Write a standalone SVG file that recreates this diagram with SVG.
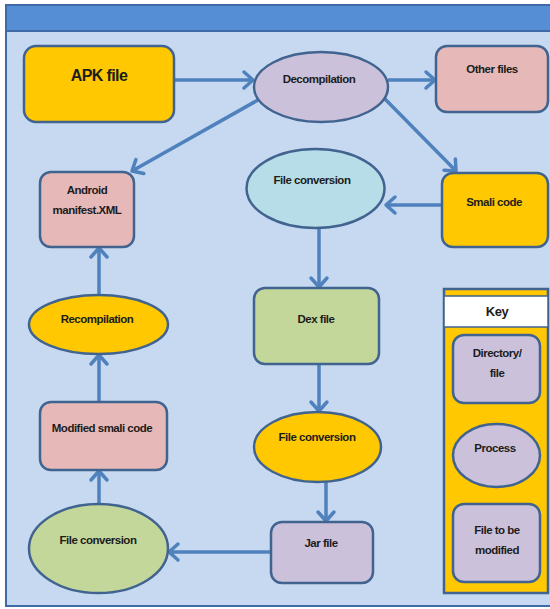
<svg xmlns="http://www.w3.org/2000/svg" width="550" height="609" viewBox="0 0 550 609">
<style>
.node{stroke:#41638f;stroke-width:2.5}
.yel{fill:#ffc800}.pink{fill:#e6b9b8}.lav{fill:#ccc1da}.cyan{fill:#b7dee8}.grn{fill:#c4d79b}
text{font-family:"Liberation Sans",Arial,sans-serif;font-weight:bold;fill:#1c1c1c;text-anchor:middle;dominant-baseline:central;font-size:11.5px;letter-spacing:-0.5px}
.big{font-size:16px;letter-spacing:-0.6px}
.conn line{stroke:#4f81bd;stroke-width:3.5;marker-end:url(#ah)}
</style>
<defs>
<marker id="ah" markerUnits="userSpaceOnUse" markerWidth="24" markerHeight="24" refX="0" refY="0" viewBox="-14 -12 24 24" orient="auto" overflow="visible">
<polyline points="-9,-8 0,0 -9,8" fill="none" stroke="#4f81bd" stroke-width="3.5" stroke-linejoin="round" stroke-linecap="round"/>
</marker>
</defs>
<g id="frame">
<rect x="6" y="5" width="548" height="601" fill="#c6d9f1" stroke="#3f6aa6" stroke-width="2"/>
<rect x="6" y="5" width="548" height="26" fill="#558ed5" stroke="#3f6aa6" stroke-width="2"/>
</g>
<g class="conn" id="connectors">
<line x1="174" y1="80" x2="253" y2="80"/>
<line x1="388" y1="80" x2="435" y2="80"/>
<line x1="384" y1="98" x2="456" y2="171"/>
<line x1="258" y1="100" x2="132" y2="171"/>
<line x1="442" y1="205" x2="386" y2="205"/>
<line x1="319" y1="228" x2="319" y2="287"/>
<line x1="319" y1="364" x2="319" y2="411"/>
<line x1="326" y1="482" x2="326" y2="521"/>
<line x1="271" y1="552" x2="169" y2="552"/>
<line x1="99" y1="504" x2="99" y2="471"/>
<line x1="99" y1="402" x2="99" y2="355"/>
<line x1="99" y1="295" x2="99" y2="248"/>
</g>
<g id="apk"><rect class="node yel" x="24" y="46" width="150" height="76" rx="12"/><text class="big" x="99" y="75">APK file</text></g>
<g id="decompilation"><ellipse class="node lav" cx="321" cy="87" rx="67" ry="35"/><text x="319" y="79">Decompilation</text></g>
<g id="otherfiles"><rect class="node pink" x="436" y="46" width="112" height="66" rx="11"/><text x="492" y="69">Other files</text></g>
<g id="smali"><rect class="node yel" x="442" y="173" width="106" height="74" rx="11"/><text x="494" y="202">Smali code</text></g>
<g id="fileconv1"><ellipse class="node cyan" cx="315.5" cy="188.5" rx="69" ry="39.5"/><text x="312" y="180">File conversion</text></g>
<g id="manifest"><rect class="node pink" x="40" y="172" width="94" height="75" rx="11"/><text x="87" y="190">Android</text><text x="87" y="210">manifest.XML</text></g>
<g id="dex"><rect class="node grn" x="254" y="288" width="125" height="76" rx="11"/><text x="316" y="319">Dex file</text></g>
<g id="recompilation"><ellipse class="node yel" cx="98.5" cy="324.5" rx="69.5" ry="29.5"/><text x="97" y="319">Recompilation</text></g>
<g id="fileconv2"><ellipse class="node yel" cx="317.5" cy="447" rx="63.5" ry="35"/><text x="317" y="437">File conversion</text></g>
<g id="modified"><rect class="node pink" x="40" y="402" width="127" height="68" rx="11"/><text x="102" y="428">Modified smali code</text></g>
<g id="jar"><rect class="node lav" x="271" y="522" width="102" height="61" rx="11"/><text x="321" y="543">Jar file</text></g>
<g id="fileconv3"><ellipse class="node grn" cx="98.5" cy="548.5" rx="69.5" ry="44.5"/><text x="98" y="540">File conversion</text></g>
<g id="key">
<rect x="444" y="289" width="104" height="304" fill="#ffc800" stroke="#41638f" stroke-width="2.5"/>
<rect x="444" y="296" width="104" height="31" fill="#ffffff" stroke="#41638f" stroke-width="1.5"/>
<text x="497" y="311" style="font-size:13px">Key</text>
<g id="key-dir"><rect class="node lav" x="453" y="335" width="87" height="68" rx="11"/><text x="497" y="353">Directory/</text><text x="497" y="373">file</text></g>
<g id="key-proc"><ellipse class="node lav" cx="496.5" cy="455.5" rx="43.5" ry="31.5"/><text x="495" y="448">Process</text></g>
<g id="key-mod"><rect class="node lav" x="453" y="504" width="87" height="78" rx="11"/><text x="497" y="530">File to be</text><text x="497" y="550">modified</text></g>
</g>
</svg>
